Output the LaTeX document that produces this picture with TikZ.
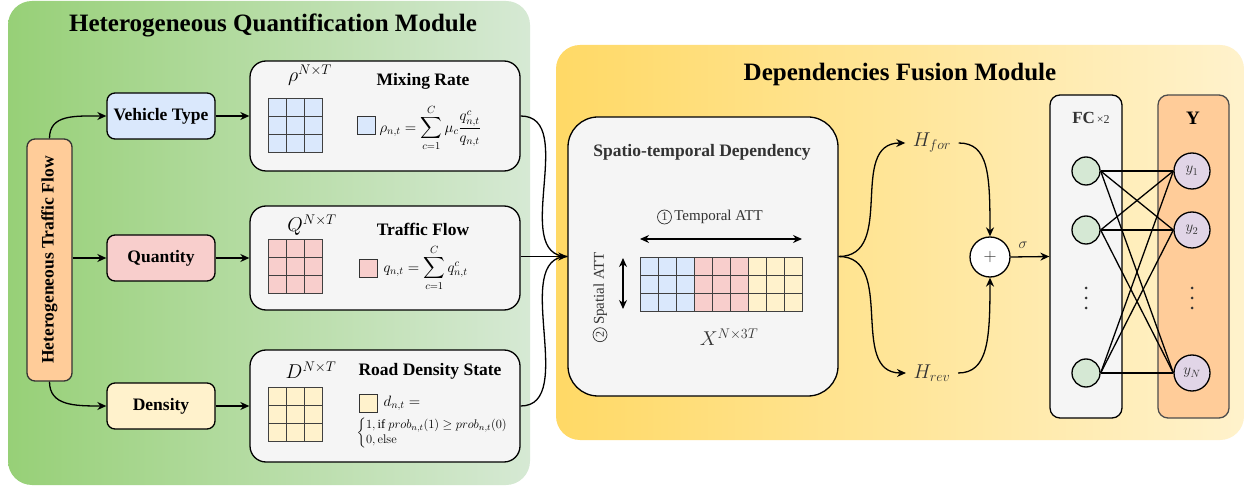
\documentclass[tikz,border=0pt]{standalone}
\usepackage{fix-cm}
\usepackage{amsmath}
\usepackage{amssymb}
\usepackage[no-math]{fontspec}
\setmainfont{Liberation Serif}
\usepackage{tikz}
\usetikzlibrary{arrows.meta}
\tikzset{>={Stealth[length=9pt,width=8pt]}}

\definecolor{hqmLeft}{RGB}{151,208,119}
\definecolor{hqmRight}{RGB}{214,233,212}
\definecolor{dfmLeft}{RGB}{255,217,102}
\definecolor{dfmRight}{RGB}{255,242,204}
\definecolor{typeBlue}{RGB}{218,232,252}
\definecolor{qtyRed}{RGB}{248,206,204}
\definecolor{denYellow}{RGB}{255,242,204}
\definecolor{flowOrange}{RGB}{255,204,153}
\definecolor{boxGray}{RGB}{245,245,245}
\definecolor{fcGreen}{RGB}{213,232,212}
\definecolor{outPurple}{RGB}{225,213,231}
\definecolor{txtGray}{RGB}{51,51,51}

\newcommand{\circnum}[1]{\tikz[baseline=(cn.base)]\node[shape=circle,draw=txtGray,line width=0.7pt,inner sep=0pt,minimum size=14pt,font=\fontsize{12}{12}\selectfont] (cn) {#1};}

\tikzset{
  titletext/.style={font=\fontsize{25}{30}\selectfont\bfseries},
  labeltext/.style={font=\fontsize{17.5}{21}\selectfont\bfseries},
  inputbox/.style={shape=rectangle,draw=black,line width=1.3pt,rounded corners=8pt,minimum width=108pt,minimum height=46pt,labeltext},
  featurebox/.style={shape=rectangle,draw=black,line width=1.3pt,rounded corners=16pt,fill=boxGray,minimum width=270pt},
  cellgrid/.style={draw=black!75,line width=0.9pt},
  keysquare/.style={shape=rectangle,draw=black!80,line width=1pt,minimum size=18pt,inner sep=0pt},
  mathbig/.style={font=\fontsize{20}{24}\selectfont},
  mathmid/.style={font=\fontsize{15}{18}\selectfont},
  mathsum/.style={font=\fontsize{15}{18}\selectfont},
  fcnode/.style={shape=circle,draw=black,line width=1.3pt,fill=fcGreen,minimum size=28pt,inner sep=0pt},
  ynode/.style={shape=circle,draw=black,line width=1.3pt,fill=outPurple,minimum size=36pt,inner sep=0pt,text=txtGray,font=\fontsize{15}{18}\selectfont},
  hlabel/.style={mathbig,text=txtGray,inner xsep=7pt,inner ysep=2pt},
  attlabel/.style={text=txtGray,font=\fontsize{15}{17}\selectfont},
}

\begin{document}
\begin{tikzpicture}[x=1pt,y=-1pt,line width=1.3pt]

\useasboundingbox (0,0) rectangle (1245,486);
\fill[white] (0,0) rectangle (1245,486);

% module panels
\path[left color=hqmLeft,right color=hqmRight,rounded corners=24pt] (8,1) rectangle (530,485);
\path[left color=dfmLeft,right color=dfmRight,rounded corners=24pt] (556,45) rectangle (1244,440);

\path (273,25) node [titletext] (hqmtitle) {Heterogeneous Quantification Module};

\path (900,74) node [titletext] (dfmtitle) {Dependencies Fusion Module};

% inputs
\path (49.5,260) node [shape=rectangle,draw=black!80,fill=flowOrange,rounded corners=8pt,minimum width=45pt,minimum height=242pt] (htf) {};
\path (htf.center) node [rotate=90,labeltext] (htftext) {Heterogeneous Traffic Flow};

\path (161,116) node [inputbox,fill=typeBlue] (vtype) {Vehicle Type};

\path (161,258) node [inputbox,fill=qtyRed] (qty) {Quantity};

\path (161,406) node [inputbox,fill=denYellow] (dens) {Density};

% quantification boxes
\path (385,116) node [featurebox,minimum height=110pt] (mixrate) {};
\path (310,75) node [mathbig] (rholab) {$\rho^{N\times T}$};
\path (423,81) node [labeltext] (mixtitle) {Mixing Rate};
\foreach \i in {0,1,2} \foreach \j in {0,1,2} \path[cellgrid,fill=typeBlue] (268+18*\i,98+18*\j) rectangle +(18,18);
\path (366,126) node [keysquare,fill=typeBlue] (mixkey) {};
\path (379,128) node [anchor=west,mathsum,inner sep=0pt] (mixeq) {$\displaystyle\rho_{n,t}=\sum_{c=1}^{C}\mu_c\frac{q^c_{n,t}}{q_{n,t}}$};

\path (385,258) node [featurebox,minimum height=104pt] (tflow) {};
\path (312,225) node [mathbig] (qlab) {$Q^{N\times T}$};
\path (423,229) node [labeltext] (flowtitle) {Traffic Flow};
\foreach \i in {0,1,2} \foreach \j in {0,1,2} \path[cellgrid,fill=qtyRed] (268+18*\i,239+18*\j) rectangle +(18,18);
\path (368,269) node [keysquare,fill=qtyRed] (flowkey) {};
\path (383,268) node [anchor=west,mathsum,inner sep=0pt] (floweq) {$\displaystyle q_{n,t}=\sum_{c=1}^{C}q^c_{n,t}$};

\path (385,406) node [featurebox,minimum height=112pt] (rdens) {};
\path (311,370) node [mathbig] (dlab) {$D^{N\times T}$};
\path (430,371) node [labeltext] (denstitle) {Road Density State};
\foreach \i in {0,1,2} \foreach \j in {0,1,2} \path[cellgrid,fill=denYellow] (268+18*\i,387+18*\j) rectangle +(18,18);
\path (368,403) node [keysquare,fill=denYellow] (denskey) {};
\path (383,403) node [anchor=west,mathmid,inner sep=0pt] (denseq) {$d_{n,t}=$};
\path (356,433) node [anchor=west,inner sep=0pt,font=\fontsize{12.5}{12.5}\selectfont] (denscases) {$\begin{cases}1,\text{if }prob_{n,t}(1)\geq prob_{n,t}(0)\\0,\mathrm{else}\end{cases}$};

% spatio-temporal dependency
\path (703,256.5) node [featurebox,rounded corners=30pt,minimum height=279pt] (stdep) {};
\path (702,152) node [labeltext,text=txtGray] (sttitle) {Spatio-temporal Dependency};
\path (710,217) node [attlabel] (tatt) {\circnum{1}\,Temporal ATT};
\path (600,297) node [rotate=90,attlabel] (satt) {\circnum{2}\,Spatial ATT};
\foreach \c [count=\k from 0] in {typeBlue,qtyRed,denYellow} \foreach \i in {0,1,2} \foreach \j in {0,1,2} \path[cellgrid,fill=\c] (640+54*\k+18*\i,257+18*\j) rectangle +(18,18);
\path (729,337) node [mathbig,text=txtGray] (xlab) {$X^{N\times 3T}$};
\coordinate (tattl) at (640,239);
\coordinate (tattr) at (802,239);
\coordinate (sattt) at (623,258);
\coordinate (sattb) at (623,309);
\draw[<->] (tattl) -- (tattr);
\draw[<->] (sattt) -- (sattb);

% fusion
\path (932,143) node [hlabel] (hfor) {$H_{for}$};

\path (932,373) node [hlabel] (hrev) {$H_{rev}$};

\path (990,257) node [shape=circle,draw=black,fill=white,minimum size=40pt,inner sep=0pt,text=txtGray,font=\fontsize{18}{18}\selectfont] (plus) {$+$};

\path (1023,245) node [mathmid,text=txtGray] (sigma) {$\sigma$};

\path (1086,256.5) node [shape=rectangle,draw=black,fill=boxGray,rounded corners=10pt,minimum width=72pt,minimum height=323pt] (fc) {};
\path (1091,118) node [text=txtGray] (fclab) {\fontsize{17}{20}\selectfont\bfseries FC\fontsize{12}{14}\selectfont\mdseries\,×2};

\path (1193.5,256.5) node [shape=rectangle,draw=black!70,fill=flowOrange,rounded corners=10pt,minimum width=71pt,minimum height=323pt] (ybox) {};
\path (1193,118) node [font=\fontsize{19}{22}\selectfont\bfseries] (ylab) {Y};

\path (1086,171) node [fcnode] (f1) {};
\path (1086,230) node [fcnode] (f2) {};
\path (1086,373) node [fcnode] (fn) {};
\foreach \d in {-10,0,10} \fill[txtGray] (1086,298+\d) circle (1.5);

\path (1192,171) node [ynode] (y1) {$y_1$};
\path (1192,230) node [ynode] (y2) {$y_2$};
\path (1192,373) node [ynode] (yn) {$y_N$};
\foreach \d in {-10,0,10} \fill[txtGray] (1192,298+\d) circle (1.5);

\foreach \a in {f1,f2,fn} \foreach \b in {y1,y2,yn} \draw (\a.east) -- (\b.west);

% connectors
\draw[->] (htf.north) .. controls +(0,-24) and +(-32,0) .. (vtype.west);
\draw[->] (qty.west -| htf.east) -- (qty.west);
\draw[->] (htf.south) .. controls +(0,24) and +(-32,0) .. (dens.west);

\draw[->] (vtype.east) -- (mixrate.west |- vtype.east);
\draw[->] (qty.east) -- (tflow.west |- qty.east);
\draw[->] (dens.east) -- (rdens.west |- dens.east);

\draw (mixrate.east) .. controls +(58,0) and +(-58,0) .. (stdep.west);
\draw (rdens.east) .. controls +(58,0) and +(-58,0) .. (stdep.west);
\draw[->] (tflow.east |- stdep.west) -- (stdep.west);

\draw[->] (stdep.east) .. controls +(58,0) and +(-58,0) .. (hfor.west);
\draw[->] (stdep.east) .. controls +(58,0) and +(-58,0) .. (hrev.west);

\draw[->] (hfor.east) .. controls +(30,0) and +(0,-62) .. (plus.north);
\draw[->] (hrev.east) .. controls +(30,0) and +(0,62) .. (plus.south);
\draw[->] (plus.east) -- (fc.west);

\end{tikzpicture}
\end{document}
